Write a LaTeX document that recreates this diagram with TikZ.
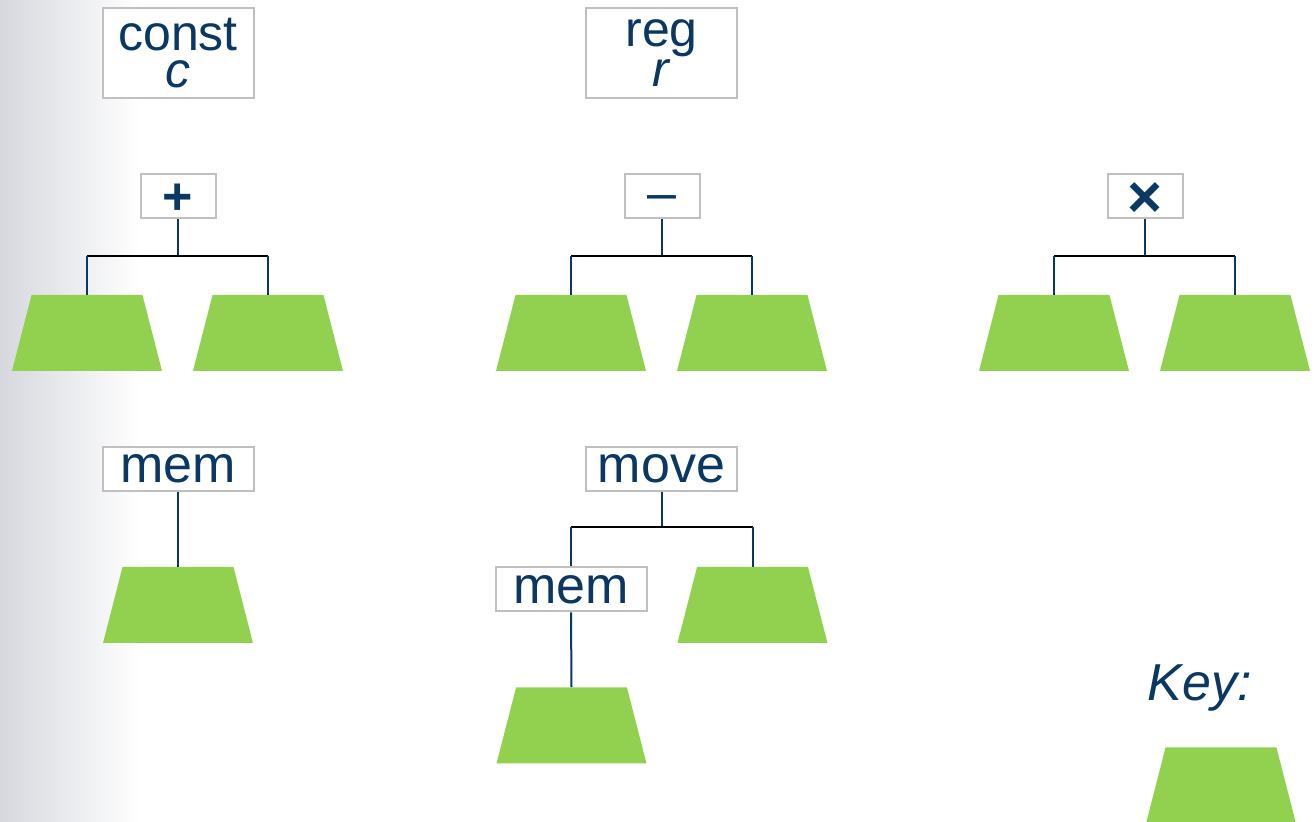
\documentclass[tikz,border=0pt]{standalone}
\usepackage{fontspec}
\setmainfont{Liberation Sans}
\usetikzlibrary{shapes.geometric}
\definecolor{ink}{HTML}{0B3763}
\definecolor{leaf}{HTML}{92D050}
\definecolor{frame}{HTML}{C0C0C0}
\definecolor{shadow}{HTML}{D6D8DE}
% centre a glyph on the node: drop it by its own middle height
\newcommand{\oncenter}[2]{\raisebox{-#1}[0pt][0pt]{#2}}
\tikzset{
  op/.style={draw=frame, line width=1pt, fill=white, text=ink, inner sep=0pt,
    minimum width=75.5pt, minimum height=22pt, font=\fontsize{26}{26}\selectfont},
  tall/.style={op, minimum height=45pt, align=center, font=\fontsize{25}{18.5}\selectfont},
  sym/.style={op, minimum width=37.5pt},
  leafnode/.style={trapezium, trapezium angle=80, trapezium stretches,
    minimum width=75pt, minimum height=38pt, fill=leaf, inner sep=1pt},
  stem/.style={draw=ink, line width=1pt},
  bar/.style={draw=black, line width=1pt},
}
\begin{document}
\begin{tikzpicture}[x=0.5pt, y=-0.5pt]
  \useasboundingbox (0,0) rectangle (1314,822);
  \shade[left color=shadow, right color=white] (0,0) rectangle (140,822);

  % leaves
  \node[tall] (const) at (178,53)   {const\\\textit{c}};
  \node[tall] (reg)   at (661.5,53) {reg\\\textit{r}};

  % binary operators
  \foreach \op/\s/\x in {
      plus/{\bfseries\oncenter{0.35em}{+}}/178,
      minus/{\oncenter{0.275em}{–}}/662,
      times/{\fontsize{30}{30}\selectfont\bfseries\oncenter{0.35em}{×}}/1145} {
    \node[sym] (\op) at (\x,196.5) {\s};
    \node[leafnode] (l\op) at (\x-91,333) {};
    \node[leafnode] (r\op) at (\x+90,333) {};
    \coordinate (j\op) at (\x,256);
    \draw[stem] (\op.south) -- (j\op);
    \draw[bar] (l\op.north |- j\op) -- (r\op.north |- j\op);
    \draw[stem] (l\op.north |- j\op) -- (l\op.north);
    \draw[stem] (r\op.north |- j\op) -- (r\op.north);
  }

  % mem
  \node[op] (mem) at (178,469) {mem};
  \node[leafnode] (addr) at (178,605) {};
  \draw[stem] (mem.south) -- (addr.north);

  % move
  \node[op] (move) at (661.5,469) {move};
  \node[op] (dst) at (571,589.5) {mem};
  \node[leafnode] (src) at (752.5,605) {};
  \node[leafnode] (daddr) at (571.5,725.5) {};
  \coordinate (jmove) at (661.5,527);
  \draw[stem] (move.south) -- (jmove);
  \draw[bar] (dst.north |- jmove) -- (src.north |- jmove);
  \draw[stem] (dst.north |- jmove) -- (dst.north);
  \draw[stem] (src.north |- jmove) -- (src.north);
  \draw[stem] (dst.south) -- (daddr.north);

  % key
  \node[text=ink, font=\fontsize{26}{26}\selectfont\itshape] (key) at (1200,688) {Key:};
  \node[leafnode] (keyleaf) at (1221,785.5) {};
\end{tikzpicture}
\end{document}
